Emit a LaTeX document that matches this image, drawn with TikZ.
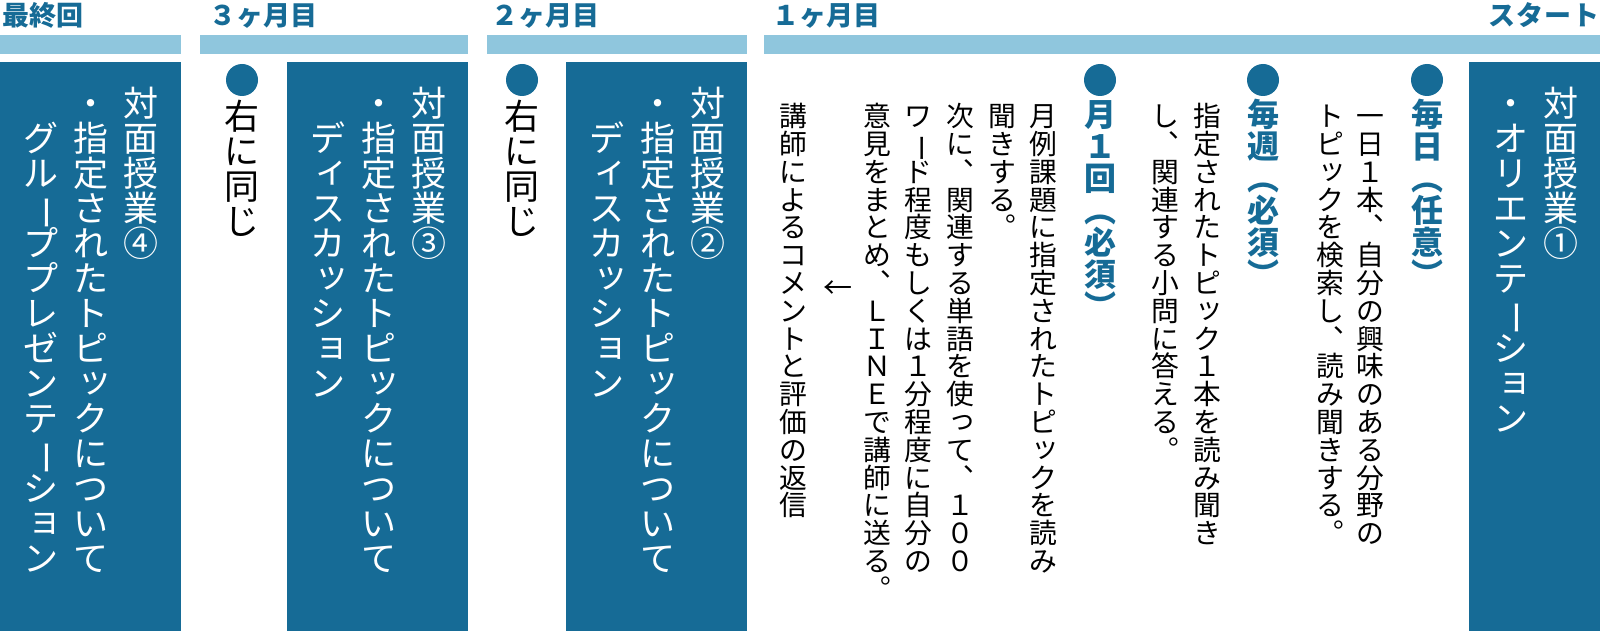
\documentclass[tikz,border=0pt]{standalone}
\usepackage{graphicx}
\usepackage{fontspec}
\newfontfamily\jp{Noto Sans CJK JP}
\definecolor{navy}{HTML}{166B96}
\definecolor{pale}{HTML}{8FC6DD}
% vertical text: one cell per character
\def\vtend{\vtend}
\newcommand\vtsm[1]{\raisebox{.1em}{\kern.1em#1\kern-.1em}}
\newcommand\vtmap[1]{%
  \ifx#1、︑\else
  \ifx#1。︒\else
  \ifx#1（︵\else
  \ifx#1）︶\else
  \ifx#1ー\rotatebox[origin=c]{-90}{ー}\else
  \ifx#1ッ\vtsm{ッ}\else
  \ifx#1ョ\vtsm{ョ}\else
  \ifx#1ィ\vtsm{ィ}\else
  \ifx#1っ\vtsm{っ}\else
  #1\fi\fi\fi\fi\fi\fi\fi\fi\fi}
\newcommand\vtcell[1]{\hbox to 1em{\vrule height .88em depth .12em width 0pt\hss\smash{\vtmap{#1}}\hss}}
\def\vtloop#1{\ifx#1\vtend\else\vtcell{#1}\expandafter\vtloop\fi}
\newcommand\vt[1]{\vbox{\offinterlineskip\vtloop#1\vtend}}

\begin{document}
\begin{tikzpicture}
[x=1pt,y=1pt,
hd/.style={font=\jp\bfseries\fontsize{27}{27}\selectfont,text=navy,inner sep=0pt},
v/.style={anchor=north,inner sep=0pt,font=\jp\fontsize{27.8}{27.8}\selectfont},
vw/.style={v,text=white,font=\jp\fontsize{35}{35}\selectfont},
vb/.style={v,font=\jp\fontsize{35}{35}\selectfont},
vh/.style={v,text=navy,font=\jp\bfseries\fontsize{32}{32}\selectfont},
dot/.style={circle,fill=navy,inner sep=0pt,minimum size=32pt}]
\useasboundingbox (0,0) rectangle (1600,-631);
% bars
\fill[pale] (0,-35) rectangle (181,-54);
\fill[pale] (200,-35) rectangle (468,-54);
\fill[pale] (487,-35) rectangle (747,-54);
\fill[pale] (764,-35) rectangle (1600,-54);
% boxes
\fill[navy] (0,-62) rectangle (181,-631);
\fill[navy] (287,-62) rectangle (468,-631);
\fill[navy] (566,-62) rectangle (747,-631);
\fill[navy] (1469,-62) rectangle (1600,-631);
% headers
\node[hd,anchor=base west] (last) at (2,-26) {最終回};
\node[hd,anchor=base west] (m3) at (209,-26) {３ヶ月目};
\node[hd,anchor=base west] (m2) at (491,-26) {２ヶ月目};
\node[hd,anchor=base west] (m1) at (772,-26) {１ヶ月目};
\node[hd,anchor=base east] (start) at (1600,-26) {ス\kern1ptタ\kern1ptー\kern1ptト};
% last
\node[vw] (a1) at (141,-85) {\vt{対面授業④}};
\node[vw] (a2) at (91,-85) {\vt{・指定されたトピックについて}};
\node[vw] (a3) at (41,-120) {\vt{グループプレゼンテーション}};
% 3 months
\node[dot] (b0) at (242,-80) {};
\node[vb] (b1) at (242,-98) {\vt{右に同じ}};
\node[vw] (b2) at (429,-85) {\vt{対面授業③}};
\node[vw] (b3) at (379,-85) {\vt{・指定されたトピックについて}};
\node[vw] (b4) at (328,-120) {\vt{ディスカッション}};
% 2 months
\node[dot] (c0) at (522,-80) {};
\node[vb] (c1) at (522,-98) {\vt{右に同じ}};
\node[vw] (c2) at (708,-85) {\vt{対面授業②}};
\node[vw] (c3) at (658,-85) {\vt{・指定されたトピックについて}};
\node[vw] (c4) at (607,-120) {\vt{ディスカッション}};
% start
\node[vw] (d1) at (1561,-85) {\vt{対面授業①}};
\node[vw] (d2) at (1511,-85) {\vt{・オリエンテーション}};
% 1 month
\node[dot] (e0) at (1427,-80) {};
\node[vh] (e1) at (1427,-98) {\vt{毎日（任意）}};
\node[v] (e2) at (1370,-102) {\vt{一日１本、自分の興味のある分野の}};
\node[v] (e3) at (1330,-102) {\vt{トピックを検索し、読み聞きする。}};
\node[dot] (f0) at (1263,-80) {};
\node[vh] (f1) at (1263,-98) {\vt{毎週（必須）}};
\node[v] (f2) at (1207,-102) {\vt{指定されたトピック１本を読み聞き}};
\node[v] (f3) at (1165,-102) {\vt{し、関連する小問に答える。}};
\node[dot] (g0) at (1100,-80) {};
\node[vh] (g1) at (1100,-98) {\vt{月１回（必須）}};
\node[v] (g2) at (1043,-102) {\vt{月例課題に指定されたトピックを読み}};
\node[v] (g3) at (1002,-102) {\vt{聞きする。}};
\node[v] (g4) at (960,-102) {\vt{次に、関連する単語を使って、１００}};
\node[v] (g5) at (918,-102) {\vt{ワード程度もしくは１分程度に自分の}};
\node[v] (g6) at (877,-102) {\vt{意見をまとめ、ＬＩＮＥで講師に送る。}};
\node[font=\jp\fontsize{29}{29}\selectfont,inner sep=0pt] (back) at (838,-290) {←};
\node[v] (g7) at (793,-102) {\vt{講師によるコメントと評価の返信}};
\end{tikzpicture}
\end{document}
